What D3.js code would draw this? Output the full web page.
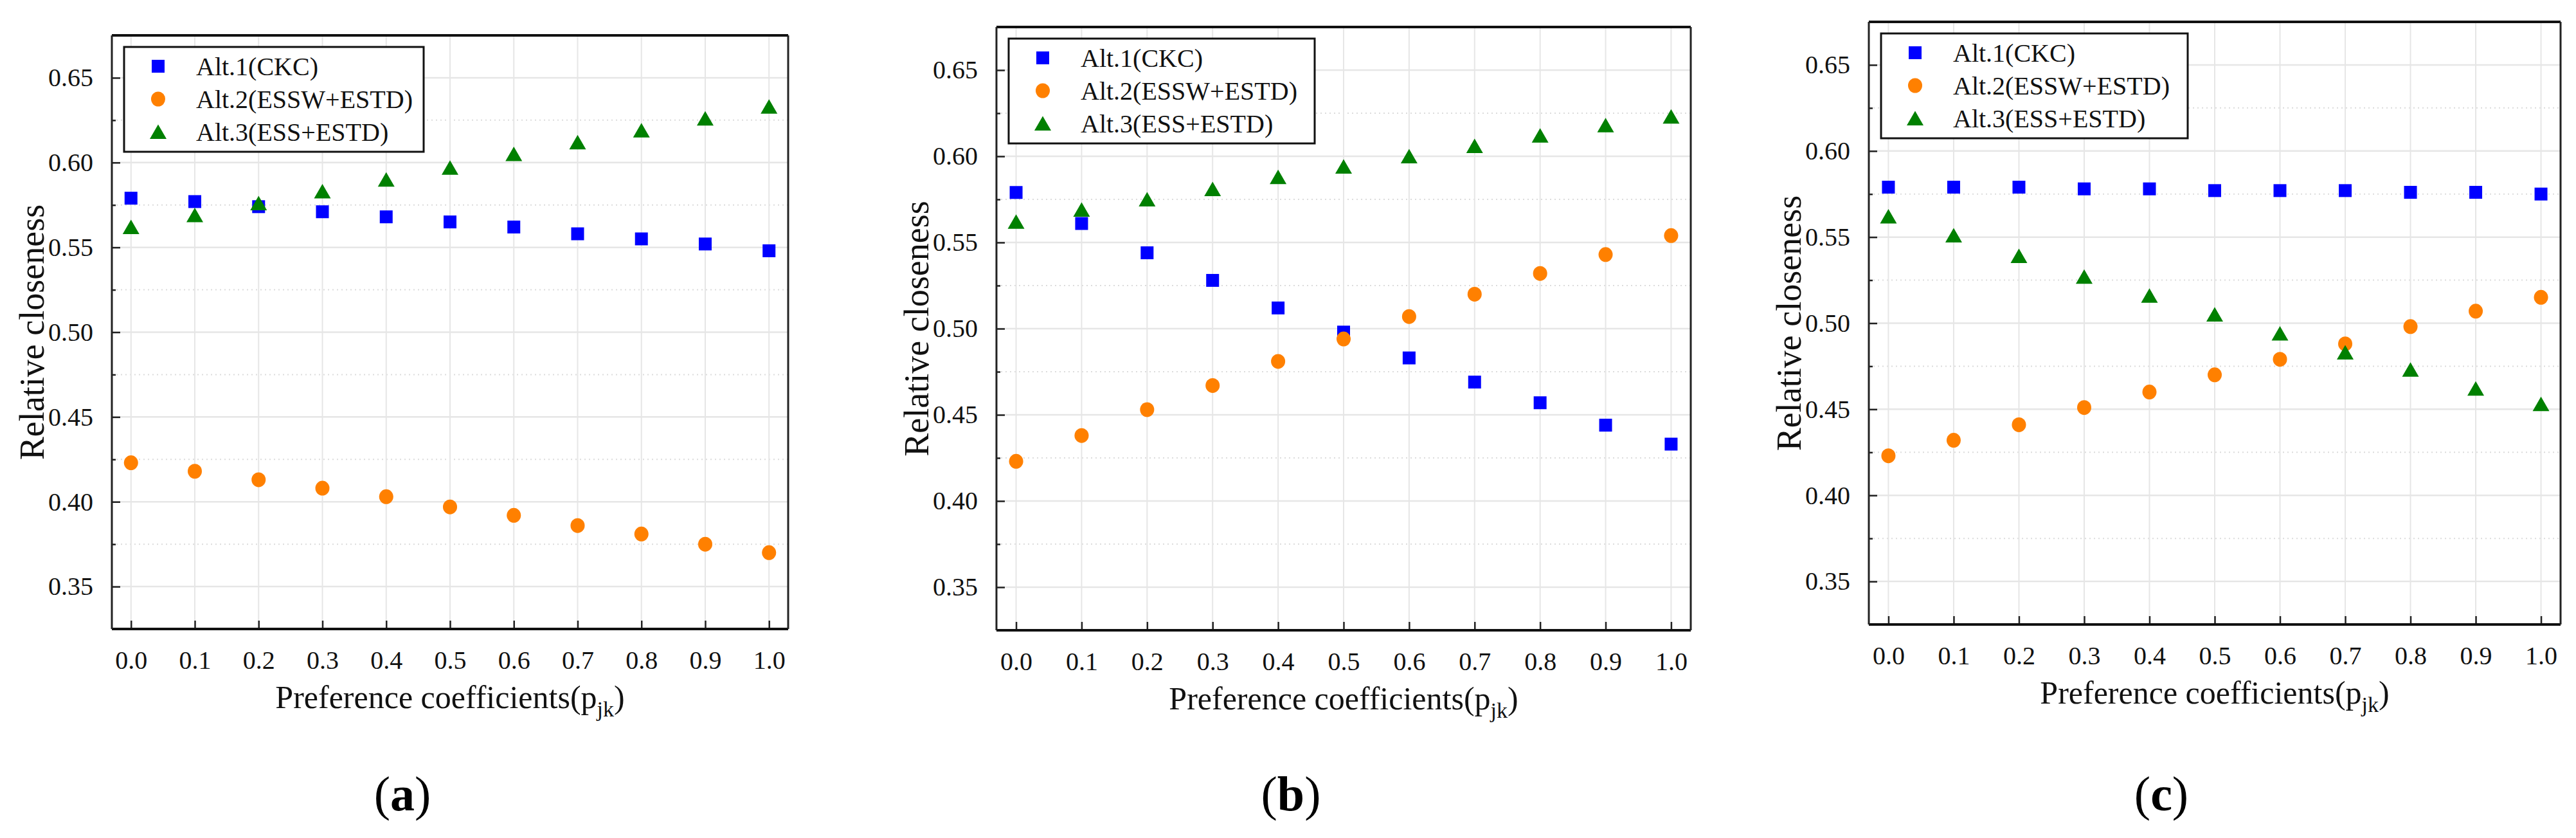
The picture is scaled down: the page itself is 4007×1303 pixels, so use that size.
<!DOCTYPE html>
<html><head><meta charset="utf-8">
<script src="https://cdn.jsdelivr.net/npm/d3@7"></script>
<style>body{margin:0;background:#fff}svg{display:block}</style>
</head><body>
<svg id="chart" width="4007" height="1303"></svg>
<script>
// ---------- data ----------
const pValues = [0.0, 0.1, 0.2, 0.3, 0.4, 0.5, 0.6, 0.7, 0.8, 0.9, 1.0];
const xTickLabels = ["0.0","0.1","0.2","0.3","0.4","0.5","0.6","0.7","0.8","0.9","1.0"];
const yTickValues = [0.35, 0.40, 0.45, 0.50, 0.55, 0.60, 0.65];
const yTickLabels = ["0.35","0.40","0.45","0.50","0.55","0.60","0.65"];
const yMinorValues = [0.375, 0.425, 0.475, 0.525, 0.575, 0.625];
const seriesNames = ["Alt.1(CKC)", "Alt.2(ESSW+ESTD)", "Alt.3(ESS+ESTD)"];
const panelLetters = ["a", "b", "c"];
const yAxisTitle = "Relative closeness";
const xAxisTitle = "Preference coefficients(p";
const xAxisSub = "jk";

// panel (a)
const alt1_a = [0.579, 0.577, 0.574, 0.571, 0.568, 0.565, 0.562, 0.558, 0.555, 0.552, 0.548];
const alt2_a = [0.423, 0.418, 0.413, 0.408, 0.403, 0.397, 0.392, 0.386, 0.381, 0.375, 0.370];
const alt3_a = [0.562, 0.569, 0.576, 0.583, 0.590, 0.597, 0.605, 0.612, 0.619, 0.626, 0.633];
// panel (b)
const alt1_b = [0.579, 0.561, 0.544, 0.528, 0.512, 0.498, 0.483, 0.469, 0.457, 0.444, 0.433];
const alt2_b = [0.423, 0.438, 0.453, 0.467, 0.481, 0.494, 0.507, 0.520, 0.532, 0.543, 0.554];
const alt3_b = [0.562, 0.569, 0.575, 0.581, 0.588, 0.594, 0.600, 0.606, 0.612, 0.618, 0.623];
// panel (c)
const alt1_c = [0.579, 0.579, 0.579, 0.578, 0.578, 0.577, 0.577, 0.577, 0.576, 0.576, 0.575];
const alt2_c = [0.423, 0.432, 0.441, 0.451, 0.460, 0.470, 0.479, 0.488, 0.498, 0.507, 0.515];
const alt3_c = [0.562, 0.551, 0.539, 0.527, 0.516, 0.505, 0.494, 0.483, 0.473, 0.462, 0.453];

// ---------- layout / style ----------
const panels = [
  {letter: panelLetters[0], series: [alt1_a, alt2_a, alt3_a], left: 174, right: 1226, top: 55, bottom: 978, labelX: 626, legW: 466},
  {letter: panelLetters[1], series: [alt1_b, alt2_b, alt3_b], left: 1550, right: 2630, top: 42, bottom: 980, labelX: 2008, legW: 476},
  {letter: panelLetters[2], series: [alt1_c, alt2_c, alt3_c], left: 2907, right: 3983, top: 34, bottom: 971, labelX: 3362, legW: 477}
];
const colors = ["#0000ff", "#ff8000", "#008000"];
const FONT = "'Liberation Serif', 'Times New Roman', serif";

const svg = d3.select("#chart");
svg.append("rect").attr("width", 4007).attr("height", 1303).attr("fill", "#fff");

function drawMarker(g, type, cx, cy, color) {
  if (type === 0) {
    g.append("rect").attr("x", cx - 10).attr("y", cy - 10).attr("width", 20).attr("height", 20).attr("fill", color);
  } else if (type === 1) {
    g.append("ellipse").attr("cx", cx).attr("cy", cy).attr("rx", 11).attr("ry", 11.5).attr("fill", color);
  } else {
    g.append("path").attr("d", `M${cx},${cy - 11.5}L${cx - 13},${cy + 11}L${cx + 13},${cy + 11}Z`).attr("fill", color);
  }
}

panels.forEach(p => {
  const g = svg.append("g");
  const x = d3.scaleLinear().domain([-0.03, 1.03]).range([p.left, p.right]);
  const y = d3.scaleLinear().domain([0.325, 0.675]).range([p.bottom, p.top]);

  // grid: minor (dotted) horizontal
  g.append("g").selectAll("line").data(yMinorValues).join("line")
    .attr("x1", p.left).attr("x2", p.right)
    .attr("y1", d => y(d)).attr("y2", d => y(d))
    .attr("stroke", "#dcdcdc").attr("stroke-width", 2).attr("stroke-dasharray", "2,5");
  // grid: major horizontal
  g.append("g").selectAll("line").data(yTickValues).join("line")
    .attr("x1", p.left).attr("x2", p.right)
    .attr("y1", d => y(d)).attr("y2", d => y(d))
    .attr("stroke", "#e6e6e6").attr("stroke-width", 2.5);
  // grid: vertical
  g.append("g").selectAll("line").data(pValues).join("line")
    .attr("x1", d => x(d)).attr("x2", d => x(d))
    .attr("y1", p.top).attr("y2", p.bottom)
    .attr("stroke", "#e6e6e6").attr("stroke-width", 2);

  // axes via d3 (inward ticks)
  const yAxis = d3.axisLeft(y).tickValues(yTickValues).tickFormat((d, i) => yTickLabels[i]).tickSize(-13).tickPadding(29);
  const yAx = g.append("g").attr("transform", `translate(${p.left},0)`).call(yAxis);
  yAx.attr("font-family", FONT);
  yAx.select(".domain").remove();
  yAx.selectAll(".tick line").attr("stroke", "#222").attr("stroke-width", 2.5);
  yAx.selectAll(".tick text").attr("font-family", FONT).attr("font-size", 40).attr("fill", "#111");

  const yMinor = d3.axisLeft(y).tickValues(yMinorValues).tickFormat("").tickSize(-6);
  const yMin = g.append("g").attr("transform", `translate(${p.left},0)`).call(yMinor);
  yMin.select(".domain").remove();
  yMin.selectAll(".tick line").attr("stroke", "#222").attr("stroke-width", 2.5);

  const xAxis = d3.axisBottom(x).tickValues(pValues).tickFormat((d, i) => xTickLabels[i]).tickSize(-13).tickPadding(34);
  const xAx = g.append("g").attr("transform", `translate(0,${p.bottom})`).call(xAxis);
  xAx.attr("font-family", FONT);
  xAx.select(".domain").remove();
  xAx.selectAll(".tick line").attr("stroke", "#222").attr("stroke-width", 2.5);
  xAx.selectAll(".tick text").attr("font-family", FONT).attr("font-size", 40).attr("fill", "#111");

  // frame
  g.append("line").attr("x1", p.left).attr("x2", p.right).attr("y1", p.top).attr("y2", p.top).attr("stroke", "#111").attr("stroke-width", 4);
  g.append("line").attr("x1", p.left).attr("x2", p.right).attr("y1", p.bottom).attr("y2", p.bottom).attr("stroke", "#111").attr("stroke-width", 4);
  g.append("line").attr("x1", p.left).attr("x2", p.left).attr("y1", p.top).attr("y2", p.bottom).attr("stroke", "#222").attr("stroke-width", 3);
  g.append("line").attr("x1", p.right).attr("x2", p.right).attr("y1", p.top).attr("y2", p.bottom).attr("stroke", "#222").attr("stroke-width", 3);

  // data points
  const dg = g.append("g");
  p.series.forEach((vals, si) => {
    vals.forEach((v, i) => drawMarker(dg, si, x(pValues[i]), y(v), colors[si]));
  });

  // legend
  const lx = p.left + 19, ly = p.top + 18, lw = p.legW, lh = 163;
  const lg = g.append("g");
  lg.append("rect").attr("x", lx).attr("y", ly).attr("width", lw).attr("height", lh)
    .attr("fill", "#fff").attr("stroke", "#111").attr("stroke-width", 3);
  seriesNames.forEach((name, si) => {
    const cy = ly + 30 + si * 51;
    drawMarker(lg, si, lx + 53, cy, colors[si]);
    lg.append("text").attr("x", lx + 112).attr("y", cy + 14)
      .attr("font-family", FONT).attr("font-size", 40).attr("fill", "#111").text(name);
  });

  // y axis title
  const cyMid = (p.top + p.bottom) / 2;
  g.append("text").attr("transform", `translate(${p.left - 106},${cyMid}) rotate(-90)`)
    .attr("text-anchor", "middle").attr("font-family", FONT).attr("font-size", 54).attr("fill", "#111")
    .text(yAxisTitle);

  // x axis title with subscript
  const xt = g.append("text").attr("x", (p.left + p.right) / 2).attr("y", p.bottom + 123)
    .attr("text-anchor", "middle").attr("font-family", FONT).attr("font-size", 50).attr("fill", "#111");
  xt.append("tspan").text(xAxisTitle);
  xt.append("tspan").attr("font-size", 34).attr("dy", 13).text(xAxisSub);
  xt.append("tspan").attr("dy", -13).text(")");

  // panel label
  const pl = svg.append("text").attr("x", p.labelX).attr("y", 1260).attr("text-anchor", "middle")
    .attr("font-family", FONT).attr("font-size", 76).attr("fill", "#000");
  pl.append("tspan").text("(");
  pl.append("tspan").attr("font-weight", "bold").text(p.letter);
  pl.append("tspan").text(")");
});
</script>
</body></html>
